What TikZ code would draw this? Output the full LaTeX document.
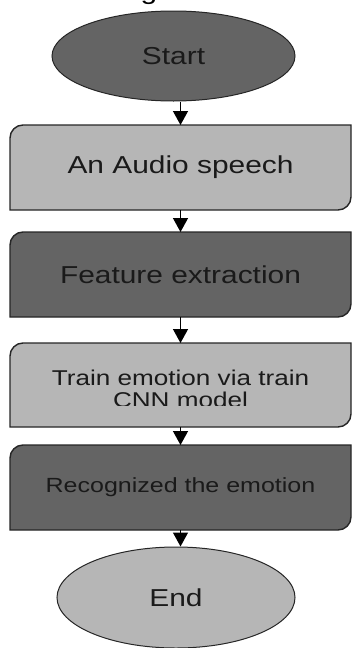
\documentclass[tikz,border=0pt]{standalone}
\usepackage{fontspec}
\setmainfont{Liberation Sans}
\newfontfamily\flowfont[FakeStretch=1.22]{Liberation Sans}
\usetikzlibrary{shapes.geometric,arrows.meta,backgrounds}

\definecolor{darkfill}{HTML}{646464}
\definecolor{lightfill}{HTML}{B6B6B6}
\definecolor{edge}{HTML}{262626}
\definecolor{ink}{HTML}{1A1A1A}

\tikzset{
  x=1pt, y=1pt,
  terminal/.style={ellipse, draw=edge, line width=1pt, text=ink, inner sep=0pt},
  stepbox/.style={rectangle, minimum width=341pt, minimum height=85pt,
    outer sep=0pt, inner sep=0pt, text=ink},
  bigtext/.style={font=\flowfont\fontsize{24.5}{26}\selectfont},
  midtext/.style={font=\flowfont\fontsize{21.4}{22}\selectfont},
  smalltext/.style={font=\flowfont\fontsize{20.5}{22}\selectfont},
  flow/.style={draw=black, line width=1.3pt, -{Triangle[width=15pt,length=14pt]}},
  boxedge/.style={draw=edge, line width=1.4pt}
}

% process box: rounded top-left and bottom-right corners, square otherwise
\newcommand\cornerbox[2]{%
  \path[boxedge, fill=#2] (#1.south west) -- ([yshift=-13pt]#1.north west)
    arc[start angle=180, end angle=90, radius=13pt] -- (#1.north east)
    -- ([yshift=13pt]#1.south east)
    arc[start angle=0, end angle=-90, radius=13pt] -- cycle;}

\begin{document}
\begin{tikzpicture}
\useasboundingbox (0,0) rectangle (352,-648);

% caption fragment at the top edge
\node[bigtext, text=black, anchor=base, inner sep=0pt] (cap) at (149,1) {g};

\node[terminal, fill=darkfill, minimum width=243pt, minimum height=90pt, bigtext]
  (start) at (173.5,-56) {Start};

\node[stepbox, bigtext] (b1) at (180.5,-167.5) {An Audio speech};
\node[stepbox, bigtext] (b2) at (180.5,-274.5) {Feature extraction};
\node[stepbox, minimum height=84pt] (b3) at (180.5,-385) {};
\begin{scope}
  \clip (10,-343) rectangle (351,-405);
  \node[midtext, anchor=base, inner sep=0pt, text=ink] (t3) at (180.5,-385)
    {\begin{tabular}[t]{@{}c@{}}Train emotion via train\\CNN model\end{tabular}};
\end{scope}
\node[stepbox, smalltext] (b4) at (180.5,-487.5) {Recognized the emotion};

\node[terminal, fill=lightfill, minimum width=238pt, minimum height=101pt, bigtext]
  (end) at (176,-597.5) {End};

\begin{scope}[on background layer]
  \cornerbox{b1}{lightfill}
  \cornerbox{b2}{darkfill}
  \cornerbox{b3}{lightfill}
  \cornerbox{b4}{darkfill}
\end{scope}

\draw[flow] (b1.north |- start.south) -- (b1.north);
\draw[flow] (b1.south) -- (b2.north);
\draw[flow] (b2.south) -- (b3.north);
\draw[flow] (b3.south) -- (b4.north);
\draw[flow] (b4.south) -- (b4.south |- end.north);
\end{tikzpicture}
\end{document}
